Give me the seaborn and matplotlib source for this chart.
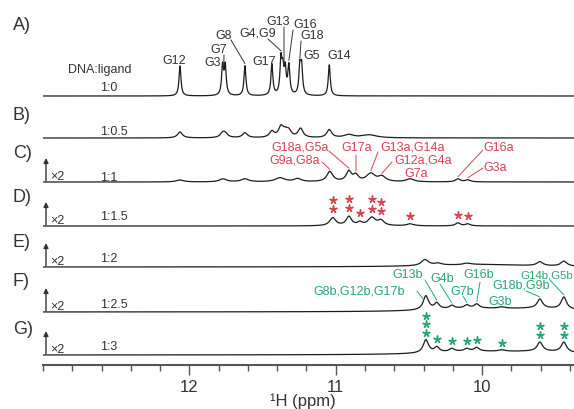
import numpy as np
import pandas as pd
import matplotlib
matplotlib.use("Agg")
import matplotlib.pyplot as plt
import seaborn as sns

# ---- data: peaks as (ppm, height, half width) for each titration point ----
ratios = ["1:0", "1:0.5", "1:1", "1:1.5", "1:2", "1:2.5", "1:3"]
panels = ["A)", "B)", "C)", "D)", "E)", "F)", "G)"]

peaks_a = [(12.064, 30, 0.008), (11.773, 29, 0.008), (11.755, 29, 0.008),
           (11.620, 30, 0.008), (11.436, 31, 0.008), (11.374, 34, 0.008),
           (11.361, 22, 0.008), (11.345, 24, 0.008), (11.320, 29, 0.008),
           (11.245, 27, 0.008), (11.233, 27, 0.008), (11.044, 31, 0.008)]
peaks_b = [(12.064, 6, 0.02), (11.773, 4, 0.02), (11.755, 4, 0.02),
           (11.620, 5, 0.02), (11.436, 6, 0.02), (11.374, 10, 0.02),
           (11.345, 5, 0.02), (11.320, 6, 0.02), (11.240, 9, 0.02),
           (11.044, 8, 0.02), (10.910, 3, 0.04), (10.770, 3, 0.06)]
peaks_c = [(12.064, 2, 0.03), (11.770, 3, 0.03), (11.620, 3, 0.03),
           (11.380, 4, 0.04), (11.260, 3, 0.03), (11.040, 10, 0.025),
           (10.910, 10, 0.022), (10.862, 6, 0.02), (10.760, 8, 0.035),
           (10.684, 5, 0.03), (10.490, 3, 0.03), (10.165, 3, 0.02),
           (10.097, 2, 0.02)]
peaks_d = [(11.020, 8, 0.025), (10.910, 9, 0.022), (10.835, 3, 0.02),
           (10.753, 8, 0.03), (10.690, 5, 0.025), (10.490, 2, 0.03),
           (10.165, 3, 0.02), (10.097, 2, 0.02)]
peaks_e = [(10.390, 6, 0.03), (10.300, 2, 0.03), (10.100, 1.5, 0.03),
           (9.605, 4, 0.025), (9.441, 5, 0.025), (10.000, 2.5, 0.4)]
peaks_f = [(10.384, 14, 0.022), (10.309, 6, 0.02), (10.206, 3, 0.02),
           (10.104, 3, 0.02), (10.036, 4, 0.02), (9.865, 1.5, 0.03),
           (9.605, 9, 0.022), (9.441, 12, 0.022),
           (10.100, 3, 0.3), (9.600, 3, 0.3)]
peaks_g = [(10.384, 13, 0.022), (10.309, 5, 0.02), (10.206, 3, 0.02),
           (10.104, 2.5, 0.02), (10.036, 3.5, 0.02), (9.865, 1.5, 0.03),
           (9.605, 9, 0.022), (9.441, 10, 0.022),
           (10.100, 3, 0.3), (9.600, 3, 0.3)]
all_peaks = [peaks_a, peaks_b, peaks_c, peaks_d, peaks_e, peaks_f, peaks_g]

# stars: (ppm, number stacked)
stars_d = [(11.02, 2), (10.91, 2), (10.835, 1), (10.753, 2), (10.69, 2),
           (10.49, 1), (10.165, 1), (10.097, 1)]
stars_g = [(10.384, 3), (10.309, 1), (10.206, 1), (10.104, 1), (10.036, 1),
           (9.865, 1), (9.605, 2), (9.441, 2)]

# ---- layout (pixels) ----
W, H = 574, 410
X0, X1 = 43, 574
AX_Y = 366
PPM_L, PPM_R = 13.0, 9.372
offsets = [269, 227, 183, 139, 98, 53, 10]

RED = "#d8434f"
GREEN = "#26a673"
INK = "#333333"


def ppm_at(px):
    return PPM_L - (px - X0) * (PPM_L - PPM_R) / (X1 - X0)


def yd(py):
    return AX_Y - py


def spectrum(x, peaks):
    x = np.asarray(x, dtype=float)
    out = np.zeros_like(x)
    for c, h, g in peaks:
        out += h / (1 + ((x - c) / g) ** 2)
    return out


def top(i, ppm):
    return offsets[i] + float(spectrum([ppm], all_peaks[i])[0])


grid = np.linspace(PPM_L, PPM_R, 3000)
frames = []
for i, pk in enumerate(all_peaks):
    frames.append(pd.DataFrame({"ppm": grid, "y": spectrum(grid, pk) + offsets[i],
                                "spec": ratios[i]}))
df = pd.concat(frames, ignore_index=True)

sns.set_theme(style="white")
plt.rcParams['font.family'] = ['Liberation Sans', 'DejaVu Sans']

fig = plt.figure(figsize=(W / 100, H / 100), dpi=100)
ax = fig.add_axes([X0 / W, (H - AX_Y) / H, (X1 - X0) / W, AX_Y / H])
ax.set_facecolor("none")

sns.lineplot(data=df, x="ppm", y="y", units="spec", estimator=None,
             color="#1c1c1c", lw=0.9, ax=ax, legend=False)

ax.set_xlim(PPM_L, PPM_R)
ax.set_ylim(0, AX_Y)
for s in ["top", "left", "right"]:
    ax.spines[s].set_visible(False)
ax.spines["bottom"].set_color("#555555")
ax.spines["bottom"].set_linewidth(1.5)
ax.set_yticks([])
ax.set_xticks([12, 11, 10])
ax.xaxis.set_minor_locator(matplotlib.ticker.MultipleLocator(0.2))
ax.tick_params(axis="x", which="major", bottom=True, length=7, width=1,
               color="#555555", labelsize=12, labelcolor=INK, pad=3)
ax.tick_params(axis="x", which="minor", bottom=True, length=4, width=1,
               color="#555555")


def txt(px, py, s, color=INK, size=9, ha="left"):
    ax.text(ppm_at(px), yd(py), s, color=color, fontsize=size, ha=ha, va="center")


def lead(px, py, i, ppm, color=INK, gap=2):
    ax.plot([ppm_at(px), ppm], [yd(py), top(i, ppm) + gap], color=color, lw=0.7)


# panel letters, ratios, x2 arrows
panel_y = [25, 115, 153, 198, 243, 282, 330]
ratio_y = [88, 132, 178, 217, 259, 305, 347]
for i in range(7):
    txt(13, panel_y[i], panels[i], size=13)
    txt(100, ratio_y[i], ratios[i], size=9)
    if i >= 2:
        x = ppm_at(46)
        ax.annotate("", xy=(x, offsets[i] + 24), xytext=(x, offsets[i] + 1),
                    arrowprops=dict(arrowstyle="-|>", lw=1, color=INK,
                                    mutation_scale=7, shrinkA=0, shrinkB=0))
        txt(50, AX_Y - offsets[i] - 6, "×2", size=9)
txt(68, 70, "DNA:ligand")

# A) assignments
txt(162, 61, "G12")
txt(204, 63, "G3")
txt(210, 50, "G7")
txt(215, 36, "G8")
txt(239, 34, "G4,G9")
txt(252, 62, "G17")
txt(266, 22, "G13")
txt(293, 25, "G16")
txt(300, 36, "G18")
txt(303, 56, "G5")
txt(327, 56, "G14")
lead(224, 56, 0, 11.765)
lead(231, 41, 0, 11.620)
lead(268, 40, 0, 11.374)
lead(284, 28, 0, 11.353, gap=0)
lead(293, 31, 0, 11.320)
lead(301, 42, 0, 11.245)

# C) assignments
txt(271, 147, "G18a,G5a", RED)
txt(269, 161, "G9a,G8a", RED)
txt(341, 148, "G17a", RED)
txt(380, 147, "G13a,G14a", RED)
txt(394, 161, "G12a,G4a", RED)
txt(404, 174, "G7a", RED)
txt(483, 148, "G16a", RED)
txt(483, 168, "G3a", RED)
lead(329, 152, 2, 10.910, RED)
lead(322, 163, 2, 11.040, RED)
lead(356, 156, 2, 10.862, RED)
lead(378, 153, 2, 10.760, RED)
lead(392, 163, 2, 10.684, RED)
lead(483, 151, 2, 10.165, RED)
lead(483, 169, 2, 10.097, RED)

# F) assignments
txt(392, 275, "G13b", GREEN)
txt(430, 279, "G4b", GREEN)
txt(463, 275, "G16b", GREEN)
txt(450, 292, "G7b", GREEN)
txt(492, 286, "G18b,G9b", GREEN)
txt(488, 302, "G3b", GREEN)
txt(520, 275, "G14b,G5b", GREEN, size=8.2)
txt(313, 292, "G8b,G12b,G17b", GREEN)
lead(425, 281, 5, 10.309, GREEN)
lead(440, 285, 5, 10.206, GREEN)
lead(480, 283, 5, 10.036, GREEN)
lead(463, 297, 5, 10.104, GREEN)
lead(526, 292, 5, 9.605, GREEN)
lead(550, 281, 5, 9.441, GREEN)
lead(417, 292, 5, 10.400, GREEN, gap=1)


# stars
def star_frame(stars, i, gap, step):
    pts = []
    for ppm, n in stars:
        base = top(i, ppm) + gap
        for k in range(n):
            pts.append({"ppm": ppm, "y": base + k * step})
    return pd.DataFrame(pts)


for stars, i, col, gap, step in [(stars_d, 3, RED, 8, 9.5), (stars_g, 6, GREEN, 7, 8.5)]:
    sf = star_frame(stars, i, gap, step)
    sns.scatterplot(data=sf, x="ppm", y="y", marker=(5, 2, 0), s=24, color=col,
                    edgecolor=col, linewidth=1.1, ax=ax, legend=False)

ax.set_xlabel("¹H (ppm)", fontsize=12, color=INK)
ax.xaxis.set_label_coords((303 - X0) / (X1 - X0), -(394 - AX_Y) / AX_Y)
ax.set_ylabel("")
fig.savefig("out.png", dpi=100)
